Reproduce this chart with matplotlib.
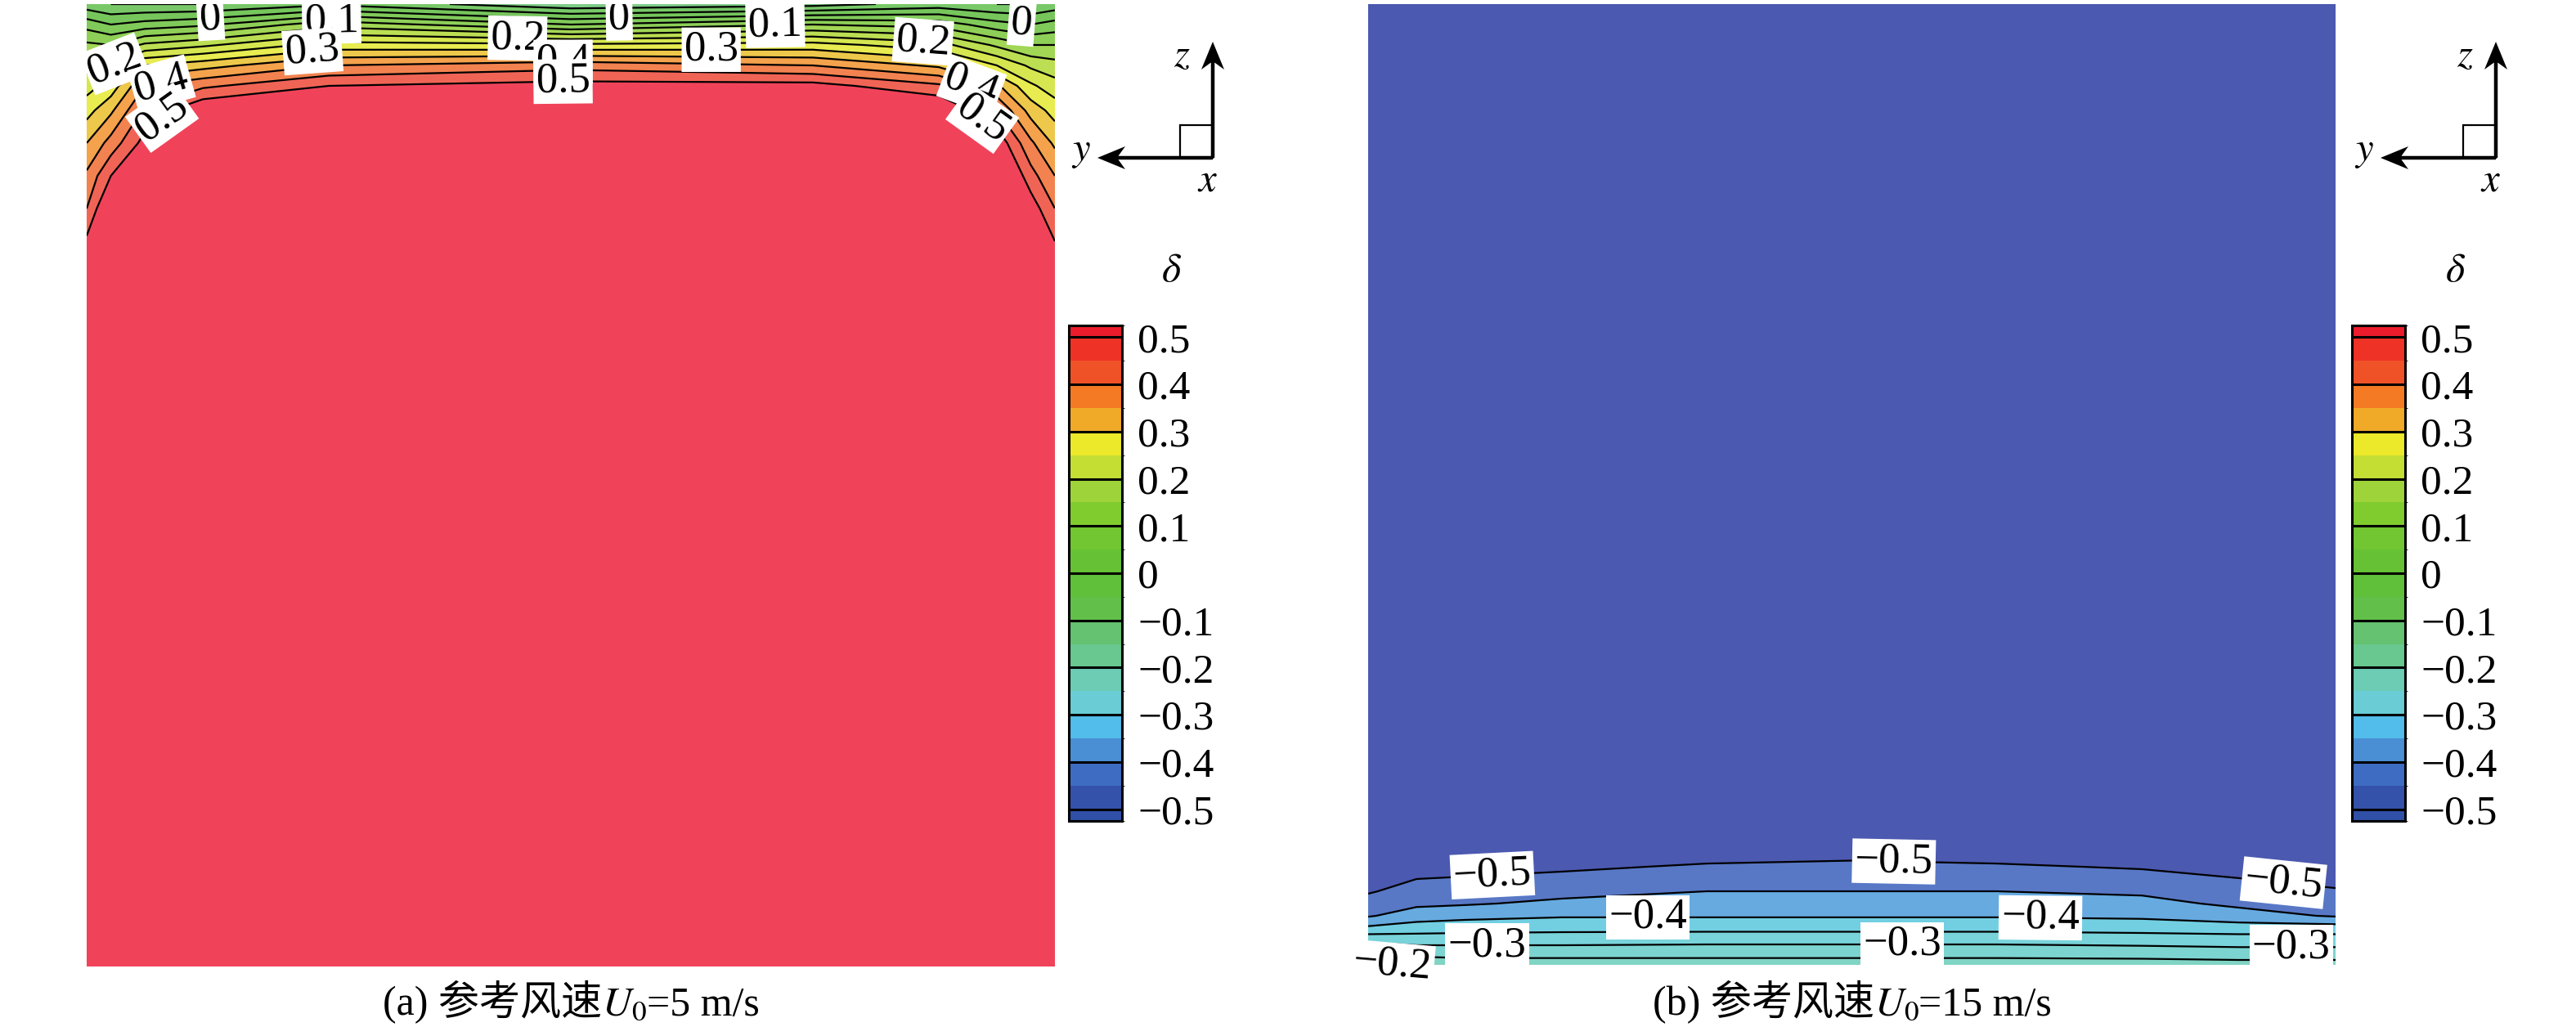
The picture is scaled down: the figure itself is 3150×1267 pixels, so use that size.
import numpy as np
import matplotlib
matplotlib.use('Agg')
import matplotlib.pyplot as plt
from matplotlib.colors import ListedColormap, BoundaryNorm
from matplotlib.cm import ScalarMappable
from matplotlib.patches import Rectangle
from matplotlib.offsetbox import TextArea, HPacker, AnnotationBbox

plt.rcParams['font.family'] = ['Liberation Serif', 'Noto Sans CJK SC']
plt.rcParams['mathtext.fontset'] = 'stix'
plt.rcParams['contour.negative_linestyle'] = 'solid'

# ---- panel (a), U0 = 5 m/s : rows = depth below top edge (px), cols = position across (0..1)
a_span = [0, 0.025, 0.06, 0.12, 0.25, 0.5, 0.75, 0.88, 0.94, 0.975, 1]
a_depth = [0, 25, 50, 75, 100, 130, 170, 210, 250, 290, 340, 1177]
a_delta = [
    [-0.08, -0.10, -0.10, -0.10, -0.06, -0.14, -0.12, -0.08, -0.10, -0.10, -0.08],
    [0.03, 0.00, 0.02, 0.04, 0.13, 0.05, 0.10, 0.08, 0.02, 0.00, 0.02],
    [0.11, 0.10, 0.16, 0.19, 0.27, 0.26, 0.27, 0.22, 0.14, 0.10, 0.10],
    [0.18, 0.20, 0.30, 0.33, 0.40, 0.43, 0.40, 0.34, 0.25, 0.19, 0.17],
    [0.23, 0.27, 0.40, 0.44, 0.50, 0.52, 0.52, 0.46, 0.36, 0.26, 0.22],
    [0.28, 0.34, 0.46, 0.55, 0.60, 0.60, 0.60, 0.56, 0.45, 0.33, 0.28],
    [0.35, 0.42, 0.52, 0.60, 0.60, 0.60, 0.60, 0.60, 0.54, 0.41, 0.34],
    [0.41, 0.50, 0.60, 0.60, 0.60, 0.60, 0.60, 0.60, 0.60, 0.47, 0.40],
    [0.45, 0.57, 0.60, 0.60, 0.60, 0.60, 0.60, 0.60, 0.60, 0.53, 0.45],
    [0.51, 0.60, 0.60, 0.60, 0.60, 0.60, 0.60, 0.60, 0.60, 0.60, 0.50],
    [0.60, 0.60, 0.60, 0.60, 0.60, 0.60, 0.60, 0.60, 0.60, 0.60, 0.60],
    [0.60, 0.60, 0.60, 0.60, 0.60, 0.60, 0.60, 0.60, 0.60, 0.60, 0.60],
]
a_labels = [
    (0.0, [(0.128, 19), (0.550, 19), (0.966, 19)]),
    (0.1, [(0.253, 19), (0.711, 19)]),
    (0.2, [(0.445, 35), (0.864, 39), (0.026, 65)]),
    (0.3, [(0.233, 55), (0.645, 55)]),
    (0.4, [(0.492, 61), (0.077, 95), (0.915, 95)]),
    (0.5, [(0.492, 99), (0.080, 142), (0.925, 140)]),
]

# ---- panel (b), U0 = 15 m/s : rows = height above bottom edge (px)
b_span = [0, 0.05, 0.1, 0.2, 0.35, 0.5, 0.65, 0.8, 0.9, 1]
b_height = [0, 15, 30, 45, 60, 75, 90, 105, 120, 135, 160, 1175]
b_delta = [
    [-0.19, -0.21, -0.225, -0.225, -0.225, -0.225, -0.225, -0.225, -0.23, -0.23],
    [-0.25, -0.27, -0.27, -0.27, -0.27, -0.27, -0.27, -0.275, -0.28, -0.28],
    [-0.31, -0.32, -0.32, -0.32, -0.315, -0.315, -0.315, -0.32, -0.325, -0.325],
    [-0.39, -0.375, -0.37, -0.365, -0.365, -0.365, -0.365, -0.37, -0.375, -0.375],
    [-0.455, -0.425, -0.415, -0.405, -0.405, -0.405, -0.405, -0.41, -0.43, -0.455],
    [-0.48, -0.46, -0.455, -0.44, -0.428, -0.428, -0.428, -0.435, -0.46, -0.475],
    [-0.505, -0.48, -0.475, -0.465, -0.45, -0.45, -0.45, -0.458, -0.478, -0.493],
    [-0.53, -0.50, -0.495, -0.485, -0.471, -0.47, -0.471, -0.48, -0.498, -0.52],
    [-0.55, -0.53, -0.52, -0.51, -0.493, -0.49, -0.493, -0.505, -0.525, -0.54],
    [-0.56, -0.55, -0.54, -0.53, -0.52, -0.51, -0.52, -0.53, -0.545, -0.555],
    [-0.56, -0.56, -0.56, -0.56, -0.56, -0.55, -0.56, -0.56, -0.56, -0.56],
    [-0.56, -0.56, -0.56, -0.56, -0.56, -0.56, -0.56, -0.56, -0.56, -0.56],
]
b_labels = [
    (-0.5, [(0.128, 119), (0.5435, 133), (0.946, 99)]),
    (-0.4, [(0.289, 69), (0.695, 69)]),
    (-0.3, [(0.123, 29), (0.552, 29), (0.954, 29)]),
    (-0.2, [(0.038, 9)]),
]

# band colours of the plots and of the legend bar (low -> high)
plot_colors = ['#4B59B0', '#5878C6', '#66AAE0', '#72CFE2', '#78D3DA', '#7CD4D0',
               '#80D4C4', '#80D2A8', '#7ECC88', '#78C868', '#76C65C', '#80CA5A',
               '#8ECF58', '#A2D655', '#BCDE52', '#D6E650', '#E8EC50', '#EEC84A',
               '#F4A24C', '#F2824F', '#F06456', '#F0435A']
bar_colors = ['#3050A8', '#3452AA', '#3E6CC2', '#4A8ED4', '#52BCEA', '#6ACCD4',
              '#6CCCB4', '#68C890', '#64C270', '#62C04A', '#60C03A', '#66C234',
              '#72C632', '#80CC2E', '#9ED43A', '#C4DE34', '#ECE82A', '#F0AA28',
              '#F47B24', '#F05228', '#EE3226', '#EC1C2C']
bar_ticks = [0.5, 0.4, 0.3, 0.2, 0.1, 0, -0.1, -0.2, -0.3, -0.4, -0.5]
bar_ticklabels = ['0.5', '0.4', '0.3', '0.2', '0.1', '0',
                  '\u22120.1', '\u22120.2', '\u22120.3', '\u22120.4', '\u22120.5']
captions = [('(a) ', '5 m/s'), ('(b) ', '15 m/s')]

line_levels = np.linspace(-0.5, 0.5, 21)
fill_levels = np.concatenate([[-1.0], line_levels, [1.0]])
bar_bounds = np.concatenate([[-0.525], line_levels, [0.525]])


def fmt(v):
    s = f'{round(v, 2):g}'
    if s == '-0':
        s = '0'
    return s.replace('-', '\u2212')


fig = plt.figure(figsize=(31.5, 12.67), dpi=100)
W, H = 3150, 1267

panels = [
    dict(box=(106, 5, 1290, 1182), x=a_span, y=a_depth, z=a_delta, lab=a_labels, flip=True, ylim=1177),
    dict(box=(1673, 5, 2856, 1180), x=b_span, y=b_height, z=b_delta, lab=b_labels, flip=False, ylim=1175),
]

for p in panels:
    x0, y0, x1, y1 = p['box']
    ax = fig.add_axes([x0 / W, 1 - y1 / H, (x1 - x0) / W, (y1 - y0) / H])
    ax.contourf(p['x'], p['y'], p['z'], levels=fill_levels, colors=plot_colors)
    ax.contour(p['x'], p['y'], p['z'], levels=line_levels, colors='k',
               linewidths=1.6, linestyles='solid')
    ax.set_xlim(0, 1)
    if p['flip']:
        ax.set_ylim(p['ylim'], 0)
    else:
        ax.set_ylim(0, p['ylim'])
    ax.axis('off')
    # one invisible contour per labelled level, labelled at hand-read spots
    for lev, pts in p['lab']:
        lc = ax.contour(p['x'], p['y'], p['z'], levels=[lev], colors='k', linewidths=0)
        texts = lc.clabel(manual=pts, inline=False, fmt=fmt, fontsize=38, colors='k')
        for t in texts:
            t.set_bbox(dict(boxstyle='square,pad=0.06', fc='white', ec='none'))
            if lev == -0.2:
                t.set_clip_on(False)

# legend bars
norm = BoundaryNorm(bar_bounds, len(bar_colors))
for cx in (1307, 2876):
    cax = fig.add_axes([cx / W, 1 - 1004 / H, 65 / W, 606 / H])
    cb = fig.colorbar(ScalarMappable(norm=norm, cmap=ListedColormap(bar_colors)),
                      cax=cax, spacing='proportional')
    cb.set_ticks(bar_ticks, labels=bar_ticklabels)
    cb.ax.tick_params(length=0, pad=14, labelsize=37)
    cb.outline.set_linewidth(2.2)
    cb.add_lines(line_levels[::2], ['k'] * 11, [2.2] * 11)

# overlay in figure pixels for the axis triads, symbols and captions
ov = fig.add_axes([0, 0, 1, 1])
ov.set_xlim(0, W)
ov.set_ylim(H, 0)
ov.axis('off')

for dx in (0, 1569):
    cxp, cyp = 1483 + dx, 193
    ov.arrow(cxp, cyp, 0, -142, width=4.5, head_width=28, head_length=34, overhang=0.25,
             length_includes_head=True, fc='k', ec='k', lw=0)
    ov.arrow(cxp, cyp, -141, 0, width=4.5, head_width=28, head_length=34, overhang=0.25,
             length_includes_head=True, fc='k', ec='k', lw=0)
    ov.add_patch(Rectangle((cxp - 40, cyp - 40), 40, 40, fill=False, lw=1.6, ec='k'))
    ov.text(cxp - 38, 69, '$z$', fontsize=35, ha='center', va='center')
    ov.text(cxp - 161, 186, '$y$', fontsize=35, ha='center', va='center')
    ov.text(cxp - 6, 222, '$x$', fontsize=35, ha='center', va='center')
    ov.text(1433 + dx, 332, r'$\delta$', fontsize=36, ha='center', va='center')

for (pre, post), xc in zip(captions, (698, 2265)):
    parts = [TextArea(pre + '参考风速', textprops=dict(fontsize=36)),
             TextArea('$U_0$', textprops=dict(fontsize=36)),
             TextArea('=' + post, textprops=dict(fontsize=36))]
    pack = HPacker(children=parts, align='baseline', pad=0, sep=0)
    ov.add_artist(AnnotationBbox(pack, (xc, 1226), xycoords='data', frameon=False,
                                 box_alignment=(0.5, 0.5)))

fig.savefig('out.png', dpi=100, facecolor='white')
